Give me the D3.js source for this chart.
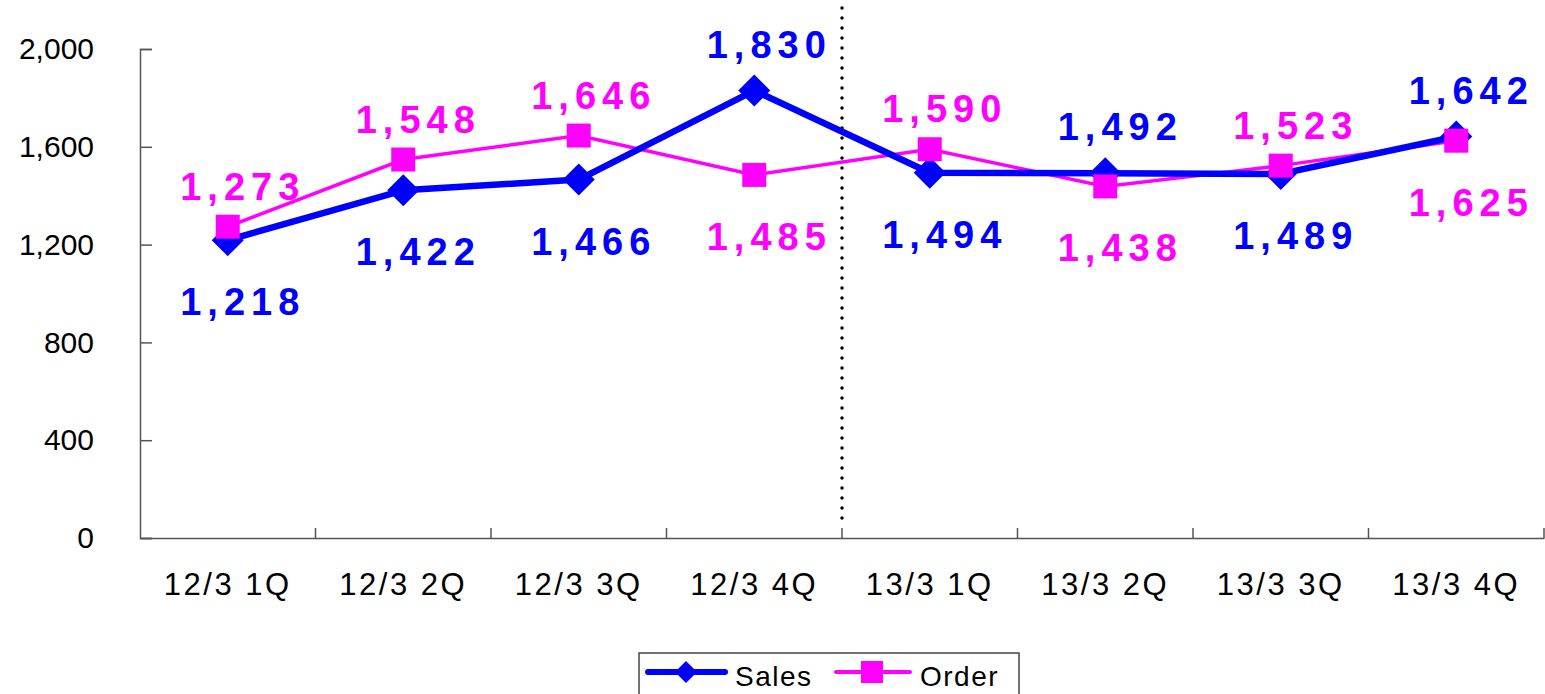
<!DOCTYPE html>
<html>
<head>
<meta charset="utf-8">
<script src="https://cdn.jsdelivr.net/npm/d3@7"></script>
<style>
  body { margin: 0; background: #fff; }
  text { font-family: "Liberation Sans", Arial, sans-serif; }
</style>
</head>
<body>
<script>
// chart values
var categories = ["12/3 1Q", "12/3 2Q", "12/3 3Q", "12/3 4Q", "13/3 1Q", "13/3 2Q", "13/3 3Q", "13/3 4Q"];
var sales = [1218, 1422, 1466, 1830, 1494, 1492, 1489, 1642];
var orders = [1273, 1548, 1646, 1485, 1590, 1438, 1523, 1625];
var yTicks = [0, 400, 800, 1200, 1600, 2000];
var seriesNames = ["Sales", "Order"];
var dividerAfter = "12/3 4Q";

var W = 1545, H = 694;
var margin = {top: 49, right: 1, bottom: 156, left: 140};
var width = W - margin.left - margin.right;
var height = H - margin.top - margin.bottom;

var svg = d3.select("body")
  .append("svg")
    .attr("width", W)
    .attr("height", H);
var g = svg.append("g")
    .attr("transform", "translate(" + margin.left + "," + margin.top + ")");

var x = d3.scaleBand().domain(categories).range([0, width]).padding(0);
var y = d3.scaleLinear().domain([0, 2000]).range([height, 0]);
var cx = function(i) { return x(categories[i]) + x.bandwidth() / 2; };

// y axis, ticks pointing inside
var yAxis = g.append("g")
  .call(d3.axisLeft(y).tickValues(yTicks).tickSize(-12).tickPadding(46).tickFormat(d3.format(",")));
yAxis.select(".domain").attr("stroke", "#555").attr("stroke-width", 1.5);
yAxis.selectAll(".tick line").attr("stroke", "#555").attr("stroke-width", 1.5);
yAxis.selectAll(".tick text")
  .attr("font-size", 30)
  .attr("font-family", "Liberation Sans, Arial, sans-serif")
  .attr("fill", "#000");

// x axis with ticks on band boundaries
var xAxis = g.append("g")
  .attr("transform", "translate(0," + height + ")")
  .call(d3.axisBottom(x).tickSize(0).tickPadding(35));
xAxis.select(".domain").attr("stroke", "#555").attr("stroke-width", 1.5);
xAxis.selectAll(".tick text")
  .attr("font-size", 31)
  .attr("letter-spacing", 2.5)
  .attr("font-family", "Liberation Sans, Arial, sans-serif")
  .attr("fill", "#000");
g.append("g").selectAll("line")
  .data(categories.slice(1).concat(["end"]))
  .enter()
  .append("line")
    .attr("x1", function(d) { return d === "end" ? width : x(d); })
    .attr("x2", function(d) { return d === "end" ? width : x(d); })
    .attr("y1", height)
    .attr("y2", height - 10)
    .attr("stroke", "#555")
    .attr("stroke-width", 1.5);

// dotted divider between fiscal years
var divX = x(dividerAfter) + x.bandwidth();
g.append("line")
  .attr("x1", divX).attr("x2", divX)
  .attr("y1", -41).attr("y2", height - 13)
  .attr("stroke", "#000")
  .attr("stroke-width", 3.5)
  .attr("stroke-linecap", "round")
  .attr("stroke-dasharray", "0,10");

var line = d3.line()
  .x(function(d, i) { return cx(i); })
  .y(function(d) { return y(d); });

// Order series (drawn first, thinner)
g.append("path")
  .datum(orders)
  .attr("fill", "none")
  .attr("stroke", "#ff00ff")
  .attr("stroke-width", 3.5)
  .attr("d", line);

// Sales series
g.append("path")
  .datum(sales)
  .attr("fill", "none")
  .attr("stroke", "#0000ff")
  .attr("stroke-width", 6.5)
  .attr("stroke-linejoin", "round")
  .attr("d", line);

var diamond = "M0,-16L16,0L0,16L-16,0Z";

g.append("g").selectAll("path")
  .data(sales)
  .enter()
  .append("path")
    .attr("d", diamond)
    .attr("fill", "#0000ff")
    .attr("transform", function(d, i) { return "translate(" + cx(i) + "," + y(d) + ")"; });

g.append("g").selectAll("rect")
  .data(orders)
  .enter()
  .append("rect")
    .attr("x", function(d, i) { return cx(i) - 12; })
    .attr("y", function(d) { return y(d) - 12; })
    .attr("width", 24)
    .attr("height", 24)
    .attr("fill", "#ff00ff");

// data labels: higher series above, lower series below
function addLabels(vals, other, color, upOff) {
  g.append("g").selectAll("text")
    .data(vals)
    .enter()
    .append("text")
      .attr("x", function(d, i) { return cx(i) + 15; })
      .attr("y", function(d, i) { return y(d) + (d >= other[i] ? upOff : 75); })
      .attr("text-anchor", "middle")
      .attr("font-size", 38)
      .attr("font-weight", "bold")
      .attr("letter-spacing", 6)
      .attr("fill", color)
      .text(function(d) { return d3.format(",")(d); });
}
addLabels(sales, orders, "#0000ff", -33);
addLabels(orders, sales, "#ff00ff", -27);

// legend
var leg = svg.append("g").attr("transform", "translate(639,653)");
leg.append("rect")
  .attr("width", 380).attr("height", 50)
  .attr("fill", "#fff").attr("stroke", "#444").attr("stroke-width", 1.5);
leg.append("line")
  .attr("x1", 9).attr("x2", 86).attr("y1", 19).attr("y2", 19)
  .attr("stroke", "#0000ff").attr("stroke-width", 6).attr("stroke-linecap", "round");
leg.append("path")
  .attr("d", "M0,-11L11,0L0,11L-11,0Z")
  .attr("transform", "translate(47,19)")
  .attr("fill", "#0000ff");
leg.append("text")
  .attr("x", 96).attr("y", 33)
  .attr("font-size", 28)
  .attr("letter-spacing", 1.5)
  .text(seriesNames[0]);
leg.append("line")
  .attr("x1", 197).attr("x2", 271).attr("y1", 19).attr("y2", 19)
  .attr("stroke", "#ff00ff").attr("stroke-width", 4).attr("stroke-linecap", "round");
leg.append("rect")
  .attr("x", 222).attr("y", 8).attr("width", 22).attr("height", 22)
  .attr("fill", "#ff00ff");
leg.append("text")
  .attr("x", 281).attr("y", 33)
  .attr("font-size", 28)
  .attr("letter-spacing", 1.5)
  .text(seriesNames[1]);
</script>
</body>
</html>
